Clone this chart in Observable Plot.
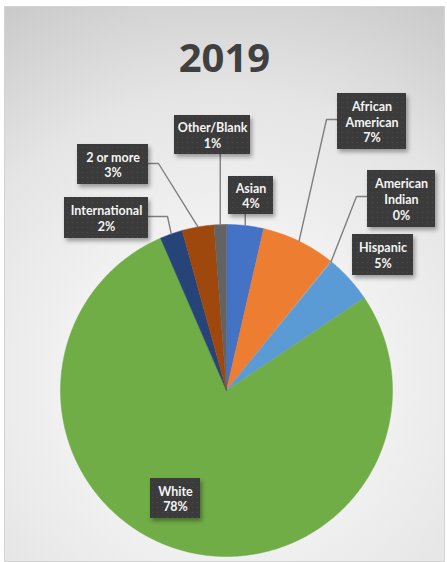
<!DOCTYPE html>
<html><head><meta charset="utf-8">
<script src="https://cdn.jsdelivr.net/npm/d3@7"></script>
<script src="https://cdn.jsdelivr.net/npm/@observablehq/plot@0.6"></script>
<style>
html,body{margin:0;padding:0;background:#fff;}
#frame{position:absolute;left:4px;top:6px;width:441px;height:556px;box-sizing:border-box;border:1px solid #d3d3d3;
background:radial-gradient(circle at 50% 68%, #f8f8f8 0px, #f1f1f1 160px, #e5e5e5 290px, #c7c7c7 450px);overflow:hidden;}
#title{position:absolute;left:0;width:100%;top:29.5px;text-align:center;font:700 40px/40px "Open Sans";color:#404040;}
#chart{position:absolute;left:0;top:83px;}
</style></head><body>
<div id="frame"><div id="title">2019</div><div id="chart"></div></div>
<script>
// ---- data ----
const categories = ["Asian","African American","American Indian","Hispanic","White","International","2 or more","Other/Blank"];
const labelNames = ["Asian","African\nAmerican","American\nIndian","Hispanic","White","International","2 or more","Other/Blank"];
const shares = [3.6, 7.2, 0.1, 4.7, 77.9, 2.2, 3.1, 1.2];
const colors = ["#4472C4","#ED7D31","#A5A5A5","#5B9BD5","#70AD47","#264478","#9E480E","#636363"];

// ---- layout (pixels relative to pie centre) ----
const labelDX = [24.5, 145.5, 175, 156.5, -51, -120, -113.5, -14];
const labelDY = [-195, -269, -191.5, -135.5, 108, -172.5, -226, -255.5];
const boxW = [45, 69, 68, 61, 50, 84, 71, 76];
const boxH = [38, 56, 57, 41, 40, 41, 40, 39];
const leaderType = ["up","left","left","none","none","right","right","up"];
const elbowDX = [0, 100, 130, 0, 0, -59, -68, 0];
const elbowDY = [0, -271, -194, 0, 0, -174, -227, 0];

const W = 439, H = 471, CX = 221, CY = 300, R = 166;

const pie = d3.pie().sort(null).value(d => d)(shares);
const toX = px => px / R, toY = py => -py / R;

// slices
const slicePts = [];
pie.forEach((p, i) => {
  const n = Math.max(2, Math.ceil((p.endAngle - p.startAngle) / 0.01));
  slicePts.push({name: categories[i], color: colors[i], x: 0, y: 0});
  for (let k = 0; k <= n; k++) {
    const a = p.startAngle + (p.endAngle - p.startAngle) * k / n;
    slicePts.push({name: categories[i], color: colors[i], x: Math.sin(a), y: Math.cos(a)});
  }
});

// labels
const labels = categories.map((c, i) => ({
  name: c,
  text: labelNames[i] + "\n" + Math.round(shares[i]) + "%",
  x: toX(labelDX[i]), y: toY(labelDY[i]),
  x1: toX(labelDX[i] - boxW[i] / 2), x2: toX(labelDX[i] + boxW[i] / 2),
  y1: toY(labelDY[i] - boxH[i] / 2), y2: toY(labelDY[i] + boxH[i] / 2)
}));

// leader lines
const leaderPts = [];
pie.forEach((p, i) => {
  const t = leaderType[i];
  if (t === "none") return;
  const m = (p.startAngle + p.endAngle) / 2;
  const ex = Math.sin(m), ey = Math.cos(m);
  leaderPts.push({name: categories[i], x: ex, y: ey});
  if (t === "up") {
    leaderPts.push({name: categories[i], x: ex, y: toY(labelDY[i] + boxH[i] / 2)});
  } else {
    leaderPts.push({name: categories[i], x: toX(elbowDX[i]), y: toY(elbowDY[i])});
    const side = t === "left" ? labelDX[i] - boxW[i] / 2 : labelDX[i] + boxW[i] / 2;
    leaderPts.push({name: categories[i], x: toX(side), y: toY(elbowDY[i])});
  }
});

const svg = Plot.plot({
  width: W, height: H,
  margin: 0,
  x: {domain: [-CX / R, (W - CX) / R], axis: null},
  y: {domain: [-(H - CY) / R, CY / R], axis: null},
  style: {background: "transparent", overflow: "visible"},
  marks: [
    Plot.line(slicePts, {x: "x", y: "y", z: "name", fill: "color", stroke: "color", strokeWidth: 0.5, curve: "linear-closed"}),
    Plot.line(leaderPts, {x: "x", y: "y", z: "name", stroke: "#7f7f7f", strokeWidth: 1.4}),
    Plot.rect(labels, {x1: "x1", x2: "x2", y1: "y1", y2: "y2", fill: "url(#dots)"}),
    Plot.text(labels, {x: "x", y: "y", text: "text", fill: "#f4f4f4", fontSize: 12.5, fontWeight: "bold", fontFamily: "Lato", lineHeight: 1.25})
  ]
});

const ns = "http://www.w3.org/2000/svg";
const defs = document.createElementNS(ns, "defs");
defs.innerHTML = '<pattern id="dots" width="5" height="5" patternUnits="userSpaceOnUse"><rect width="5" height="5" fill="#3b3b3b"/><circle cx="2.5" cy="2.5" r="0.6" fill="#4d4d4d"/></pattern>';
svg.insertBefore(defs, svg.firstChild);
svg.querySelectorAll('g[aria-label="rect"]').forEach(g => g.style.filter = "drop-shadow(2px 3px 2px rgba(0,0,0,0.35))");
document.getElementById("chart").appendChild(svg);
</script>
</body></html>
